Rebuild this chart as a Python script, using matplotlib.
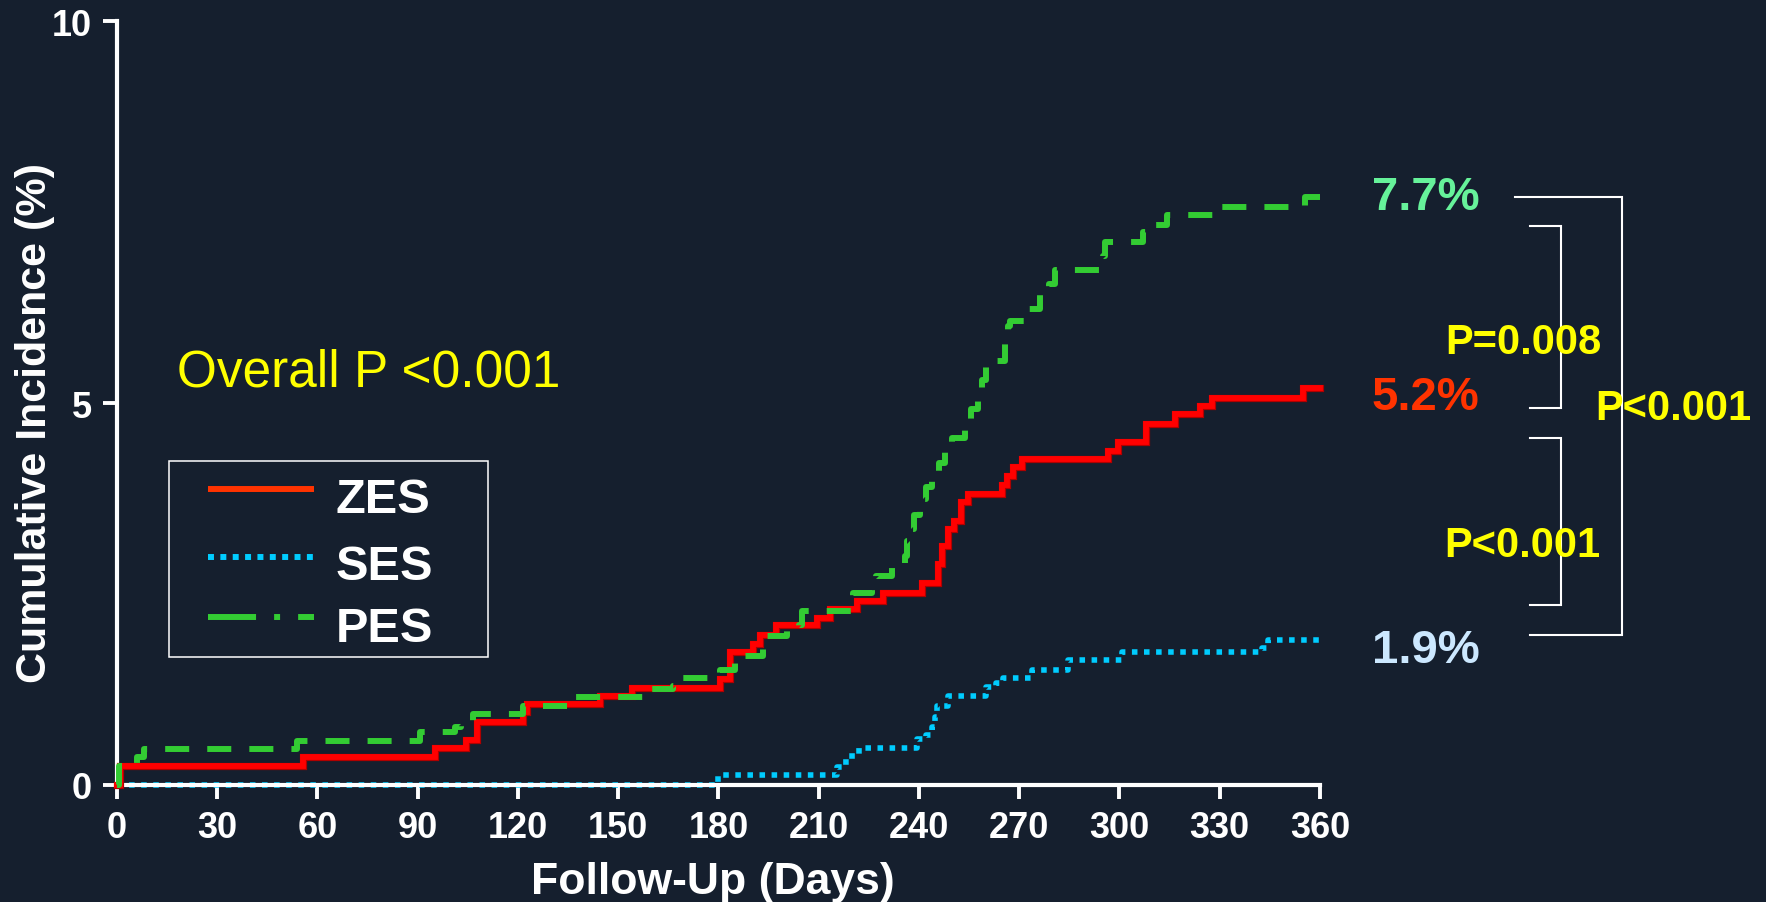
import matplotlib
matplotlib.use("Agg")
import matplotlib.pyplot as plt
import matplotlib.patheffects as pe
from matplotlib.patches import Rectangle

# ---- data -------------------------------------------------------------
series_names = ["ZES", "SES", "PES"]

zes_days = [0, 1, 55.8, 95.2, 104.4, 107.6, 121.6, 122.8, 144.5, 154,
            180.4, 183.4, 190.4, 192.4, 197.2, 209.4, 213.3, 221.3, 229.3, 240.8,
            245.8, 246.8, 248.8, 250.5, 252.5, 254.7, 264.7, 266.4, 268.2, 270.7,
            296.6, 299.6, 307.8, 316.6, 324, 327.7, 355, 360]
zes_vals = [0, 0.25, 0.36, 0.48, 0.59, 0.83, 0.95, 1.06, 1.17, 1.27,
            1.39, 1.74, 1.85, 1.96, 2.09, 2.19, 2.30, 2.41, 2.52, 2.65,
            2.89, 3.13, 3.35, 3.46, 3.70, 3.81, 3.93, 4.05, 4.16, 4.27,
            4.38, 4.49, 4.73, 4.86, 4.96, 5.07, 5.2, 5.2]

ses_days = [0, 180, 215.4, 217, 219, 222, 239.5, 242, 243.8, 244.7, 245.5,
            248.8, 260.2, 263, 265.2, 273.7, 284.7, 300.6, 342.5, 344.5, 360]
ses_vals = [0, 0.13, 0.23, 0.30, 0.38, 0.48, 0.60, 0.65, 0.76, 0.89, 1.04,
            1.17, 1.28, 1.34, 1.40, 1.51, 1.64, 1.74, 1.80, 1.9, 1.9]

pes_days = [0, 0.5, 6, 8, 54, 90.7, 101, 103, 106.5, 121.6,
            137, 159.5, 166.4, 169, 180.5, 185, 188, 193.4, 194.5, 200.4,
            204, 205, 220.3, 226, 227, 232, 235.8, 236.3, 237, 238.5,
            240.3, 242, 243.8, 246, 247.8, 250, 253.7, 255.5, 257.7, 259,
            260.2, 263, 265.7, 266.5, 267.2, 272, 276.2, 279, 280.7, 295,
            295.6, 307.1, 310, 314.3, 329.5, 355.5, 360]
pes_vals = [0, 0.25, 0.36, 0.47, 0.58, 0.70, 0.76, 0.81, 0.93, 1.04,
            1.15, 1.26, 1.30, 1.40, 1.50, 1.61, 1.69, 1.79, 1.95, 2.02,
            2.10, 2.28, 2.52, 2.55, 2.74, 2.87, 3.0, 3.2, 3.35, 3.53,
            3.74, 3.90, 4.03, 4.22, 4.38, 4.55, 4.79, 4.92, 5.12, 5.31,
            5.49, 5.55, 5.77, 6.01, 6.08, 6.23, 6.43, 6.56, 6.75, 6.93,
            7.11, 7.24, 7.33, 7.47, 7.57, 7.7, 7.7]

x_ticks = [0, 30, 60, 90, 120, 150, 180, 210, 240, 270, 300, 330, 360]
y_ticks = [0, 5, 10]

pairwise_p = ["P=0.008", "P<0.001", "P<0.001"]
overall_p = "Overall P <0.001"

# ---- style ------------------------------------------------------------
plt.rcParams["font.family"] = ["Liberation Sans", "DejaVu Sans"]
plt.rcParams["lines.scale_dashes"] = False

BG = "#151F2E"
RED = "#FF0000"
RED_KEY = "#FF3300"
CYAN = "#00CCFF"
GREEN = "#33CC33"
YELLOW = "#FFFF00"
end_colors = {"PES": "#66F29A", "ZES": "#FF3300", "SES": "#CCE8FF"}

fig = plt.figure(figsize=(17.66, 9.03), dpi=100, facecolor=BG)
ax = fig.add_axes([0.06625, 0.1296, 0.6812, 0.8455], facecolor=BG)

# ---- curves -----------------------------------------------------------
ax.step(ses_days, ses_vals, where="post", color=CYAN, lw=4.0,
        dashes=(4.0, 4.7), dash_capstyle="butt", zorder=2, clip_on=False)
ax.step(zes_days, zes_vals, where="post", color=RED, lw=4.2,
        solid_joinstyle="miter", zorder=3, clip_on=False,
        path_effects=[pe.Stroke(linewidth=5.2, foreground="#B00000"), pe.Normal()])
ax.step(pes_days, pes_vals, where="post", color=GREEN, lw=4.3,
        dashes=(17.3, 13.0), dash_capstyle="butt", zorder=4, clip_on=False)

# ---- axes -------------------------------------------------------------
ax.set_xlim(0, 360)
ax.set_ylim(0, 10)
ax.set_xticks(x_ticks)
ax.set_yticks(y_ticks)
for side in ("top", "right"):
    ax.spines[side].set_visible(False)
for side in ("left", "bottom"):
    ax.spines[side].set_color("white")
    ax.spines[side].set_linewidth(3.0)
ax.tick_params(direction="out", length=10, width=2.8, colors="white",
               labelsize=26, pad=8)
for lbl in ax.get_xticklabels() + ax.get_yticklabels():
    lbl.set_fontweight("bold")

ax.set_xlabel("Follow-Up (Days)", fontsize=32, fontweight="bold",
              color="white", va="top")
ax.xaxis.set_label_coords(0.4955, -0.099)
ax.set_ylabel("Cumulative Incidence (%)", fontsize=31, fontweight="bold",
              color="white", va="center", ha="center")
ax.yaxis.set_label_coords(-0.068, 0.475)

# ---- legend box -------------------------------------------------------
ax.add_patch(Rectangle((0.0432, 0.1676), 0.2652, 0.2568, transform=ax.transAxes,
                       fill=False, edgecolor="white", lw=1.1, zorder=5))
key_x = [0.0756, 0.1638]
key_styles = {
    "ZES": dict(color=RED_KEY, lw=4.3, solid_capstyle="butt"),
    "SES": dict(color=CYAN, lw=4.3, dashes=(4.3, 4.6), dash_capstyle="butt"),
    "PES": dict(color=GREEN, lw=4.3, dashes=(34.6, 13.0, 4.3, 13.0), dash_capstyle="butt"),
}
key_rows = {"ZES": (0.3877, 0.3581), "SES": (0.2986, 0.2698), "PES": (0.2200, 0.1890)}
for name in series_names:
    line_y, text_y = key_rows[name]
    ax.plot(key_x, [line_y, line_y], transform=ax.transAxes, zorder=6, **key_styles[name])
    ax.text(0.182, text_y, name, transform=ax.transAxes, fontsize=35,
            fontweight="bold", color="white", va="baseline", ha="left", zorder=6)

# ---- annotations ------------------------------------------------------
ax.text(17.9, 5.235, overall_p, fontsize=37, color=YELLOW, va="baseline", ha="left")

finals = {"PES": pes_vals[-1], "ZES": zes_vals[-1], "SES": ses_vals[-1]}
label_baselines = {"PES": 7.54, "ZES": 4.92, "SES": 1.61}
for name, val in finals.items():
    ax.text(375.5, label_baselines[name], f"{val:.1f}%", fontsize=34,
            fontweight="bold", color=end_colors[name], va="baseline",
            ha="left", clip_on=False, zorder=7)

bracket_kw = dict(color="white", lw=1.5, clip_on=False, zorder=5,
                  solid_joinstyle="miter")
# outer bracket (PES vs SES)
ax.plot([418.3, 450.3, 450.3, 422.8], [7.696, 7.696, 1.963, 1.963], **bracket_kw)
# upper bracket (PES vs ZES)
ax.plot([422.8, 432.1, 432.1, 422.8], [7.317, 7.317, 4.935, 4.935], **bracket_kw)
# lower bracket (ZES vs SES)
ax.plot([422.8, 432.1, 432.1, 422.8], [4.542, 4.542, 2.356, 2.356], **bracket_kw)

p_pos = [(421.0, 5.654), (420.4, 2.997), (465.6, 4.79)]
for (px, py), txt in zip(p_pos, pairwise_p):
    ax.text(px, py, txt, fontsize=30, fontweight="bold", color=YELLOW,
            va="baseline", ha="center", clip_on=False, zorder=8)

fig.savefig("out.png", dpi=100, facecolor=BG)
